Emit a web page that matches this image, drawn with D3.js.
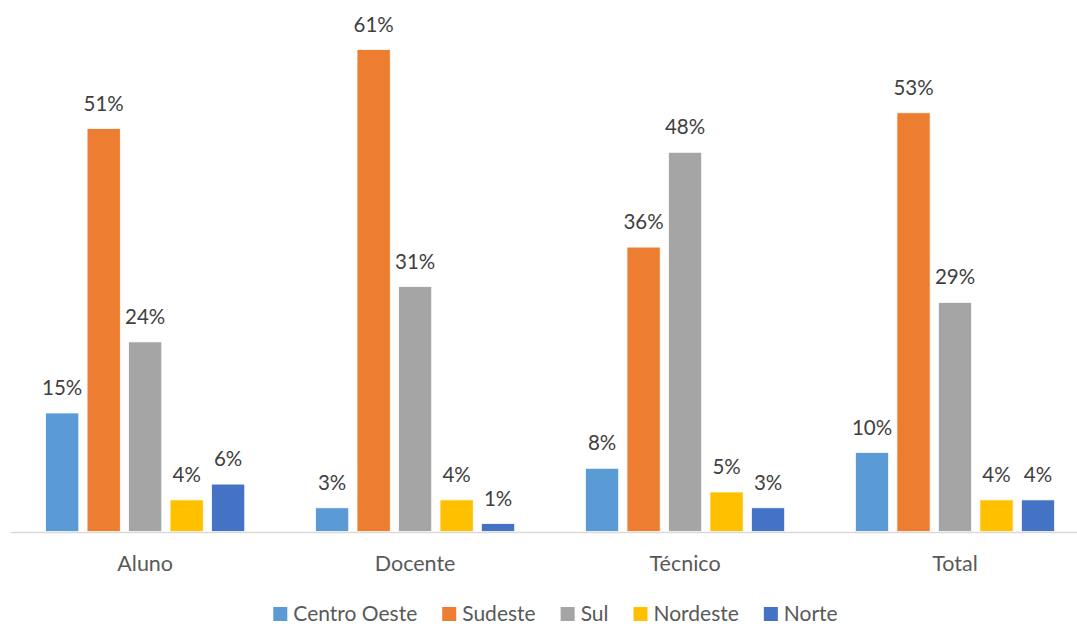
<!DOCTYPE html>
<html>
<head>
<meta charset="utf-8">
<script src="https://cdn.jsdelivr.net/npm/d3@7/dist/d3.min.js"></script>
<style>
  html, body { margin: 0; padding: 0; background: #ffffff; }
  svg { display: block; font-family: Lato, "Open Sans", sans-serif; }
</style>
</head>
<body>
<svg id="chart" width="1077" height="626"></svg>
<script>
// Share of respondents by region, per group (percent)
const categories = ["Aluno", "Docente", "Técnico", "Total"];
const series = ["Centro Oeste", "Sudeste", "Sul", "Nordeste", "Norte"];
const centroOeste = [15, 3, 8, 10];
const sudeste     = [51, 61, 36, 53];
const sul         = [24, 31, 48, 29];
const nordeste    = [4, 4, 5, 4];
const norte       = [6, 1, 3, 4];
const colors = ["#5B9BD5", "#ED7D31", "#A5A5A5", "#FFC000", "#4472C4"];

const valuesBySeries = [centroOeste, sudeste, sul, nordeste, norte];

const svg = d3.select("#chart");
const baseline = 531.5;

const x0 = d3.scaleBand()
  .domain(categories)
  .range([10.2, 1090])
  .paddingInner(0)
  .paddingOuter(0);

const x1 = d3.scaleBand()
  .domain(series)
  .range([0, x0.bandwidth()])
  .paddingInner(0.2)
  .paddingOuter(0.853);

const y = d3.scaleLinear()
  .domain([0, 70])
  .range([baseline, baseline - 70 * 7.9]);

const color = d3.scaleOrdinal().domain(series).range(colors);

const rows = [];
categories.forEach((c, ci) => {
  series.forEach((s, si) => {
    rows.push({ category: c, series: s, value: valuesBySeries[si][ci] });
  });
});

// bars
const g = svg.append("g");
g.selectAll("rect.bar")
  .data(rows)
  .join("rect")
  .attr("class", "bar")
  .attr("x", d => x0(d.category) + x1(d.series))
  .attr("y", d => y(d.value))
  .attr("width", x1.bandwidth())
  .attr("height", d => y(0) - y(d.value))
  .attr("fill", d => color(d.series))
  .attr("stroke", "#ffffff")
  .attr("stroke-width", 0.75);

// value labels
g.selectAll("text.value")
  .data(rows)
  .join("text")
  .attr("class", "value")
  .attr("x", d => x0(d.category) + x1(d.series) + x1.bandwidth() / 2)
  .attr("y", d => y(d.value) - 18)
  .attr("text-anchor", "middle")
  .attr("fill", "#404040")
  .attr("font-size", 20.5)
  .text(d => d.value + "%");

// category axis
const xAxis = d3.axisBottom(x0).tickSize(0).tickPadding(0);
const axisG = svg.append("g")
  .attr("transform", `translate(0,${baseline + 0.5})`)
  .call(xAxis);
axisG.select(".domain").attr("stroke", "#D9D9D9").attr("stroke-width", 1.3);
axisG.selectAll(".tick text")
  .attr("dy", 0)
  .attr("y", 39)
  .attr("fill", "#595959")
  .attr("font-size", 21.5)
  .attr("font-family", "Lato, 'Open Sans', sans-serif");

// legend
const legend = svg.append("g").attr("class", "legend");
const items = legend.selectAll("g.item")
  .data(series)
  .join("g")
  .attr("class", "item");
items.append("rect")
  .attr("width", 14)
  .attr("height", 14)
  .attr("y", -14)
  .attr("fill", d => color(d));
items.append("text")
  .attr("x", 20)
  .attr("y", 0)
  .attr("fill", "#595959")
  .attr("font-size", 21)
  .text(d => d);

let cursor = 0;
const gap = 25;
items.each(function () {
  const it = d3.select(this);
  it.attr("transform", `translate(${cursor},0)`);
  const w = 20 + it.select("text").node().getComputedTextLength();
  cursor += w + gap;
});
const totalW = cursor - gap;
legend.attr("transform", `translate(${555.5 - totalW / 2},621)`);
</script>
</body>
</html>
